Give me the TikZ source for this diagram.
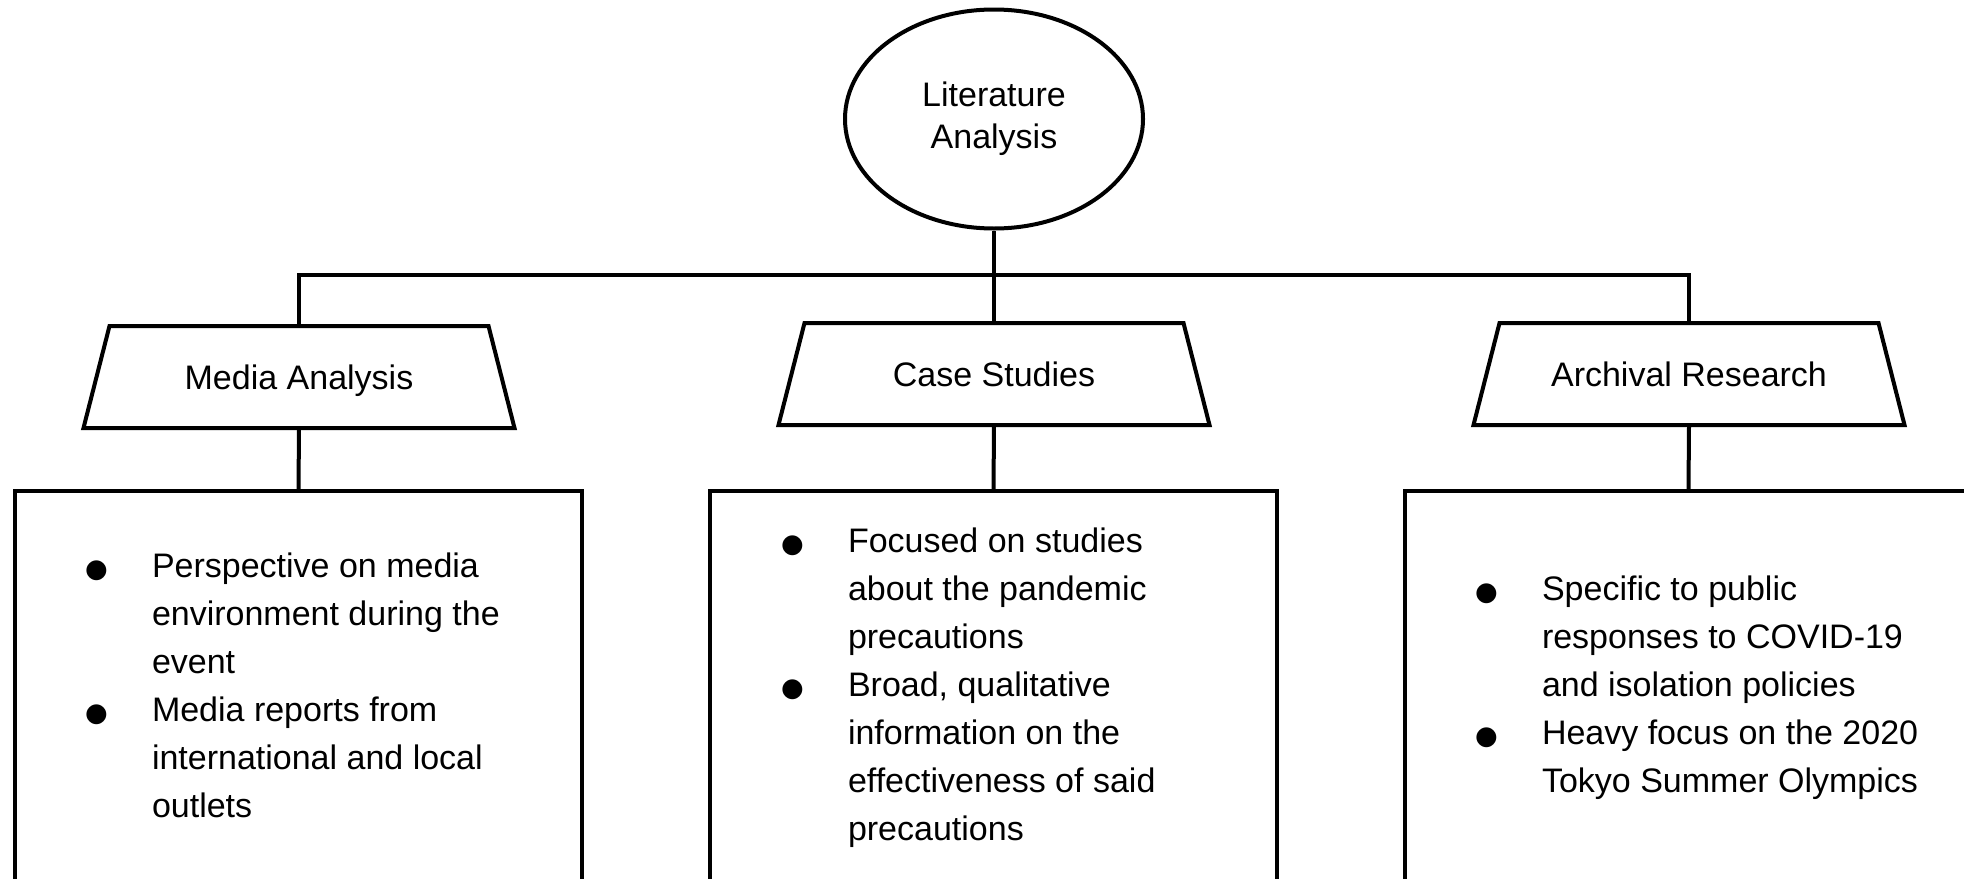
\documentclass[tikz,border=0pt]{standalone}
\usepackage{fontspec}
\setmainfont{Liberation Sans}
\newfontfamily\bulletfont{DejaVu Sans}
\usetikzlibrary{shapes.geometric}
\newcommand{\bul}{\makebox[66pt][l]{\hspace*{-1pt}{\bulletfont\fontsize{26}{26}\selectfont ●}}}
\newcommand{\ind}{\hspace*{66pt}}
\begin{document}
\begin{tikzpicture}[x=1pt,y=-1pt, line width=4pt,
  every node/.style={font=\fontsize{34}{48}\selectfont},
  trap/.style={rectangle, minimum width=431pt, minimum height=102pt,
    inner sep=0pt, outer sep=0pt, text height=25pt, text depth=0pt,
    append after command={\pgfextra{\let\tn\tikzlastnode}
      ([xshift=26pt]\tn.north west) -- ([xshift=-26pt]\tn.north east)
      -- (\tn.south east) -- (\tn.south west) -- cycle}},
  card/.style={draw, rectangle, minimum width=567pt, minimum height=500pt, anchor=north, inner sep=0pt},
  txt/.style={anchor=north west, inner sep=0pt, align=left}]
\useasboundingbox (0,0) rectangle (1964,878);
\clip (0,0) rectangle (1964,878);
\node[draw, ellipse, minimum width=298pt, minimum height=219pt, inner sep=0pt, align=center,
  font=\fontsize{34}{42}\selectfont] (lit) at (994,119) {Literature\\Analysis};
\draw[line join=miter] node[trap] (media) at (299,377) {Media Analysis};
\draw[line join=miter] node[trap] (case) at (994,374) {Case Studies};
\draw[line join=miter] node[trap] (arch) at (1689,374) {Archival Research};
\node[card] (mbox) at (298.5,489) {};
\node[card] (cbox) at (993.5,489) {};
\node[card] (abox) at (1688.5,489) {};
\node[txt] (mtxt) at (84,543) {\bul\rule{0pt}{32pt}Perspective on media\\\ind environment during the\\\ind event\\\bul Media reports from\\\ind international and local\\\ind outlets};
\node[txt] (ctxt) at (780,518) {\bul\rule{0pt}{32pt}Focused on studies\\\ind about the pandemic\\\ind precautions\\\bul Broad, qualitative\\\ind information on the\\\ind effectiveness of said\\\ind precautions};
\node[txt] (atxt) at (1474,566) {\bul\rule{0pt}{32pt}Specific to public\\\ind responses to COVID-19\\\ind and isolation policies\\\bul Heavy focus on the 2020\\\ind Tokyo Summer Olympics};
\coordinate (hub) at (994,275);
\draw (lit.south) -- (case.north);
\draw (media.north) -- (media.north |- hub) -- (arch.north |- hub) -- (arch.north);
\draw (media.south) -- (mbox.north);
\draw (case.south) -- (cbox.north);
\draw (arch.south) -- (abox.north);
\end{tikzpicture}
\end{document}
